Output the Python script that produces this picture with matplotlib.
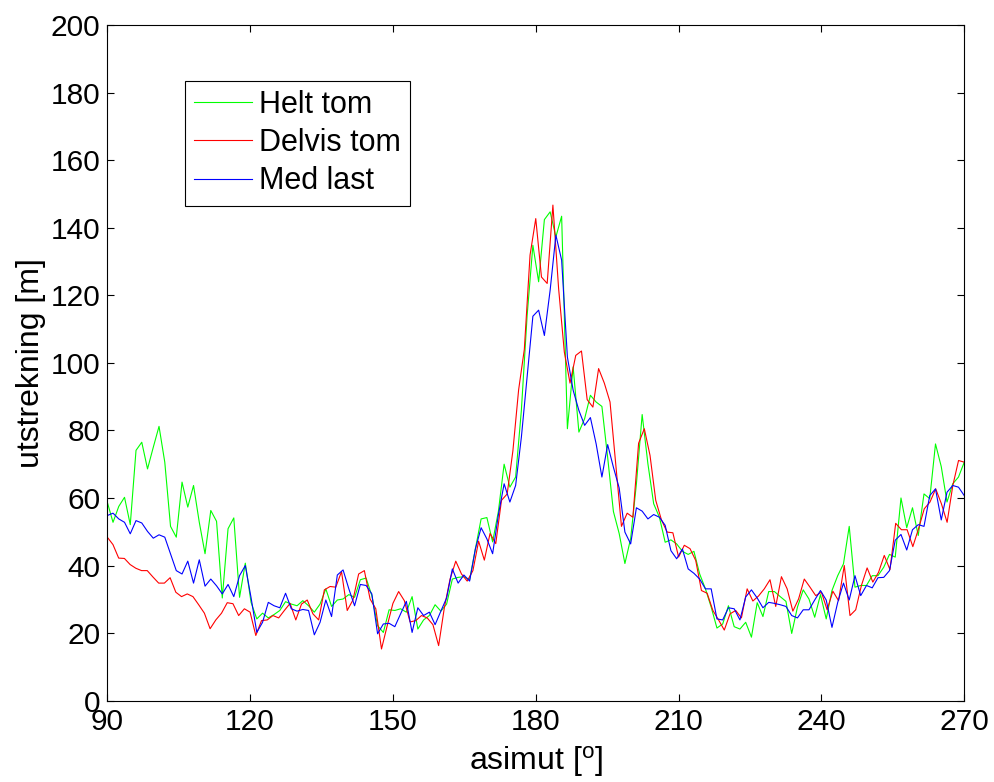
import numpy as np
import matplotlib
matplotlib.use('Agg')
import matplotlib.pyplot as plt

plt.rcParams['font.family'] = ['Liberation Sans', 'DejaVu Sans']
plt.rcParams['mathtext.fontset'] = 'custom'
plt.rcParams['mathtext.rm'] = 'Liberation Sans'
plt.rcParams['mathtext.it'] = 'Liberation Sans'

# utstrekning [m]
helt_tom = [58.8, 52.8, 57.5, 60.2, 52.1, 74.1, 76.5, 68.6, 75.0, 81.2,
            70.6, 51.6, 48.4, 64.7, 57.3, 63.7, 52.8, 43.5, 56.3, 53.1,
            30.4, 50.9, 54.1, 30.6, 40.7, 29.1, 24.2, 25.9, 24.5, 25.5,
            26.7, 29.3, 28.6, 28.1, 29.6, 28.1, 26.2, 28.6, 33.1, 27.9,
            29.8, 30.1, 31.4, 30.6, 35.8, 36.3, 31.1, 22.2, 20.2, 26.9,
            26.7, 27.2, 26.2, 30.8, 21.2, 23.9, 25.2, 28.4, 26.5, 28.6,
            36.0, 36.5, 36.7, 35.8, 44.9, 53.8, 54.2, 47.0, 56.0, 70.0,
            63.2, 66.2, 86.0, 114.0, 134.8, 124.0, 142.4, 144.7, 137.3, 143.4,
            80.5, 98.8, 79.5, 83.5, 90.4, 88.4, 87.1, 72.0, 56.0, 49.5,
            40.6, 48.0, 64.2, 84.7, 70.1, 58.3, 54.3, 46.9, 47.6, 46.4,
            44.2, 43.3, 44.2, 37.5, 33.1, 27.7, 21.5, 22.7, 28.1, 21.9,
            21.2, 23.2, 18.8, 29.0, 24.9, 32.3, 32.3, 30.8, 29.4, 19.9,
            27.7, 32.8, 30.1, 24.7, 31.4, 24.2, 32.6, 37.0, 40.5, 51.6,
            33.6, 34.1, 34.1, 37.0, 37.0, 39.5, 43.3, 42.5, 60.0, 51.2,
            57.1, 48.9, 61.2, 59.8, 76.0, 69.3, 58.8, 64.2, 66.2, 70.6]

delvis_tom = [48.4, 46.2, 42.2, 42.1, 40.3, 39.2, 38.5, 38.5, 36.6, 34.8,
              34.8, 36.4, 32.1, 30.8, 31.6, 30.8, 28.4, 25.9, 21.3, 23.9,
              25.9, 29.0, 28.7, 25.2, 27.2, 26.2, 19.3, 23.7, 23.9, 25.2,
              24.5, 26.7, 28.8, 23.9, 28.6, 29.8, 25.7, 23.9, 32.8, 33.8,
              33.6, 38.2, 26.7, 29.8, 37.5, 38.5, 30.1, 27.2, 15.3, 22.2,
              28.8, 32.3, 29.6, 23.3, 23.7, 25.2, 24.5, 22.5, 16.3, 27.5,
              36.0, 41.3, 37.5, 35.4, 38.5, 47.2, 41.6, 49.5, 46.5, 59.3,
              61.2, 74.0, 92.0, 104.0, 131.9, 142.7, 125.4, 123.5, 146.7, 122.0,
              103.2, 94.0, 102.2, 103.5, 89.1, 86.9, 98.3, 94.0, 88.4, 70.0,
              51.6, 55.5, 54.3, 76.2, 80.5, 72.6, 59.3, 53.5, 49.9, 49.7,
              42.5, 46.0, 45.0, 41.5, 32.6, 31.8, 26.7, 23.9, 20.9, 25.7,
              26.7, 24.5, 33.1, 29.5, 31.0, 33.1, 35.8, 27.9, 36.7, 33.1,
              26.5, 30.1, 36.0, 33.6, 31.1, 32.1, 26.9, 32.4, 29.6, 40.0,
              25.2, 26.9, 34.1, 39.3, 35.1, 38.0, 43.0, 38.8, 52.5, 50.6,
              50.6, 45.6, 50.9, 56.8, 58.8, 62.7, 58.3, 52.8, 63.7, 71.1,
              70.6]

med_last = [54.8, 55.5, 53.8, 52.8, 49.4, 53.3, 52.6, 50.1, 48.1, 49.1,
            48.4, 43.5, 38.5, 37.5, 41.3, 34.8, 41.7, 33.9, 36.0, 34.0,
            31.6, 34.4, 30.8, 37.0, 40.0, 30.5, 20.2, 23.2, 29.1, 28.1,
            27.5, 31.8, 27.2, 26.5, 27.0, 26.7, 19.5, 23.2, 29.8, 24.9,
            37.2, 38.7, 33.1, 28.1, 34.4, 34.1, 31.6, 19.8, 22.7, 22.9,
            21.9, 25.7, 29.4, 20.2, 27.5, 25.2, 26.2, 22.5, 26.5, 30.4,
            39.0, 34.8, 37.2, 35.4, 44.9, 51.2, 47.9, 43.5, 55.0, 64.2,
            58.8, 63.7, 78.0, 96.0, 113.8, 115.6, 108.1, 121.5, 137.8, 130.4,
            101.7, 91.9, 85.9, 81.5, 83.8, 76.0, 66.2, 75.8, 69.1, 63.0,
            49.9, 46.4, 57.1, 56.1, 53.8, 55.1, 54.3, 51.9, 44.4, 42.0,
            44.9, 39.0, 37.7, 36.0, 33.1, 33.1, 24.2, 23.9, 27.5, 27.2,
            23.9, 30.7, 32.8, 30.4, 27.5, 29.1, 28.8, 28.4, 27.9, 25.2,
            24.5, 26.9, 26.9, 29.8, 32.6, 29.8, 21.7, 29.1, 34.8, 29.8,
            37.0, 31.1, 34.1, 33.4, 36.4, 36.5, 38.5, 47.5, 49.2, 44.6,
            50.6, 52.1, 51.6, 60.7, 62.7, 53.5, 61.7, 63.7, 63.2, 60.7]

# asimut grid for each series
az_helt = np.linspace(90, 270, len(helt_tom))
az_delvis = np.linspace(90, 270, len(delvis_tom))
az_med = np.linspace(90, 270, len(med_last))

fig = plt.figure(figsize=(9.95, 7.82), dpi=100)
ax = fig.add_axes([0.1078, 0.104, 0.8613, 0.864])

ax.plot(az_helt, helt_tom, color=(0, 1, 0), lw=0.8, label='Helt tom')
ax.plot(az_delvis, delvis_tom, color=(1, 0, 0), lw=0.8, label='Delvis tom')
ax.plot(az_med, med_last, color=(0, 0, 1), lw=0.8, label='Med last')

ax.set_xlim(90, 270)
ax.set_ylim(0, 200)
ax.set_xticks(np.arange(90, 271, 30))
ax.set_yticks(np.arange(0, 201, 20))
ax.tick_params(direction='in', length=5, width=0.8, top=True, right=True,
               labelsize=21.5, pad=5)
for s in ax.spines.values():
    s.set_linewidth(0.8)

ax.set_xlabel(r'asimut [$^{\mathrm{o}}$]', fontsize=23, labelpad=6)
ax.set_ylabel('utstrekning [m]', fontsize=23, labelpad=3)

leg = ax.legend(loc='upper left', bbox_to_anchor=(0.0907, 0.9176),
                borderaxespad=0, fontsize=22, handlelength=1.9,
                handletextpad=0.23, labelspacing=0.27, borderpad=0.3,
                fancybox=False, framealpha=1)
leg.get_frame().set_edgecolor('black')
leg.get_frame().set_linewidth(0.8)

fig.savefig('out.png', dpi=100)
